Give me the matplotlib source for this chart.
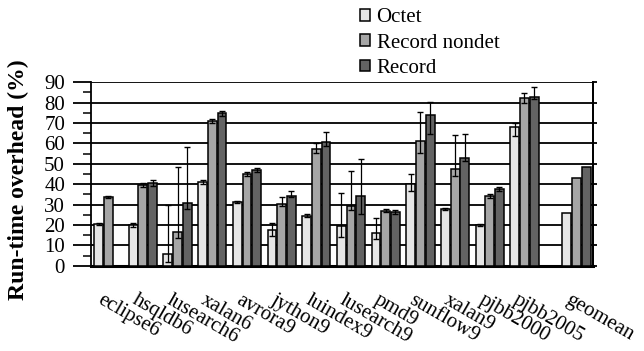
import matplotlib
matplotlib.use("Agg")
import matplotlib.pyplot as plt
import matplotlib.transforms as mtransforms
import numpy as np

plt.rcParams['font.family'] = ['Liberation Serif', 'DejaVu Serif']

benchmarks = ['eclipse6', 'hsqldb6', 'lusearch6', 'xalan6', 'avrora9', 'jython9',
              'luindex9', 'lusearch9', 'pmd9', 'sunflow9', 'xalan9', 'pjbb2000',
              'pjbb2005', 'geomean']

octet = [20.5, 20.0, 5.6, 41.2, 31.4, 17.5, 24.5, 19.5, 15.9, 40.0, 27.7, 19.8, 67.9, 26.0]
octet_lo = [0.3, 0.8, 3.6, 1.0, 0.5, 3.0, 0.8, 5.6, 3.0, 3.2, 0.5, 0.5, 4.2, 0]
octet_hi = [0.3, 0.8, 24.0, 1.0, 0.5, 3.3, 0.8, 16.2, 7.7, 4.9, 0.5, 0.5, 2.0, 0]

nondet = [33.7, 39.6, 16.4, 71.0, 44.9, 30.1, 57.3, 29.3, 27.0, 61.2, 47.5, 34.2, 82.3, 43.0]
nondet_lo = [0.3, 1.2, 2.8, 1.0, 1.0, 0.9, 2.0, 2.0, 0.8, 5.7, 3.5, 1.0, 2.6, 0]
nondet_hi = [0.3, 1.2, 32.1, 1.0, 1.0, 3.5, 2.9, 17.0, 0.8, 14.3, 16.8, 1.0, 2.3, 0]

record = [np.nan, 40.8, 30.9, 74.8, 47.0, 34.2, 60.9, 34.2, 26.4, 73.8, 52.7, 37.8, 83.0, 48.6]
record_lo = [0, 1.5, 3.2, 1.5, 1.0, 0.7, 2.3, 8.8, 1.0, 9.1, 1.5, 1.0, 1.2, 0]
record_hi = [0, 1.5, 27.5, 1.2, 1.0, 2.7, 4.9, 18.3, 1.0, 6.7, 12.1, 1.0, 4.7, 0]

series = [('Octet', octet, octet_lo, octet_hi, '#e6e6e6'),
          ('Record nondet', nondet, nondet_lo, nondet_hi, '#a6a6a6'),
          ('Record', record, record_lo, record_hi, '#636363')]

# geomean sits a half slot further right
n = len(benchmarks)
pos = np.arange(n) + np.where(np.arange(n) == n - 1, 0.5, 0.0)
w = 0.279

fig = plt.figure(figsize=(6.44, 3.51), dpi=100)
ax = fig.add_axes([0.142, 0.243, 0.779, 0.5225])

for i, (name, vals, lo, hi, col) in enumerate(series):
    x = pos + (i - 1) * w
    ax.bar(x, vals, w * 0.92, color=col, edgecolor='black', linewidth=1.1,
           label=name, zorder=3)
    yerr = np.array([lo, hi])
    has = (np.array(lo) + np.array(hi)) > 0
    ax.errorbar(x[has], np.array(vals)[has], yerr=yerr[:, has], fmt='none',
                ecolor='black', elinewidth=0.9, capsize=2.5, capthick=1.0, zorder=4)

ax.set_ylim(0, 90)
ax.set_xlim(-0.484, pos[-1] + 0.48)
ax.set_yticks(np.arange(0, 91, 10))
ax.set_yticks(np.arange(5, 90, 10), minor=True)
ax.grid(axis='y', color='black', linewidth=1.3, zorder=0)
ax.tick_params(axis='y', which='major', direction='out', length=13, width=1.3,
               labelsize=15, pad=6)
ax.tick_params(axis='y', which='minor', direction='out', length=6, width=1.1)

ax.spines['top'].set_visible(False)
ax.spines['left'].set_linewidth(1.3)
ax.spines['right'].set_linewidth(1.3)
ax.spines['bottom'].set_linewidth(2.2)

right = ax.secondary_yaxis('right')
right.set_yticks(np.arange(0, 91, 10))
right.tick_params(direction='out', length=3, width=1.3, labelright=False)
right.spines['right'].set_linewidth(1.3)

ax.set_xticks(pos)
ax.set_xticklabels(benchmarks, rotation=-30, ha='left', va='top',
                   rotation_mode='anchor', fontsize=15)
ax.tick_params(axis='x', length=0, pad=18)
shift = mtransforms.ScaledTranslation(-5 / 100, 0, fig.dpi_scale_trans)
for lbl in ax.get_xticklabels():
    lbl.set_transform(lbl.get_transform() + shift)

ax.set_ylabel('Run-time overhead (%)', fontsize=17, fontweight='bold')
ax.yaxis.set_label_coords(-0.125, 0.47)

fig.legend(loc='upper left', bbox_to_anchor=(0.546, 1.0), frameon=False,
           fontsize=15, handlelength=0.5, handleheight=0.5, handletextpad=0.3,
           labelspacing=0.3, borderaxespad=0)

fig.savefig('out.png', dpi=100)
